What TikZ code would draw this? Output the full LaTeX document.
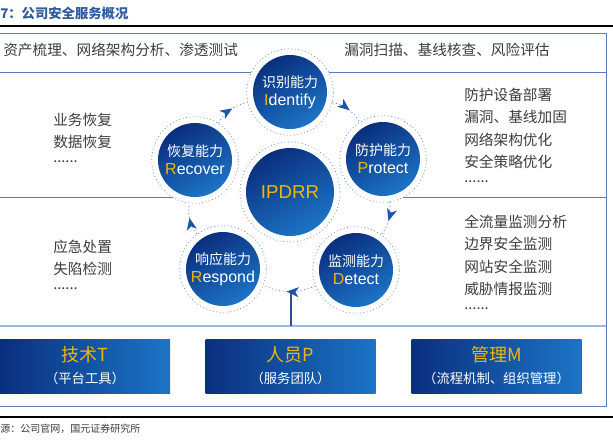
\documentclass[tikz,border=0pt]{standalone}
\usepackage{fontspec}
\setmainfont{Noto Sans CJK SC}
\newfontfamily\en{Liberation Sans}
\usetikzlibrary{arrows.meta,decorations.markings}
\definecolor{titleblue}{HTML}{2F5C9E}
\definecolor{frameblue}{HTML}{5A7DBA}
\definecolor{rowlight}{HTML}{9DB8E3}
\definecolor{textgray}{HTML}{3C3C3C}
\definecolor{ringblue}{HTML}{6C8FCC}
\definecolor{arrowblue}{HTML}{1A55A8}
\definecolor{navy}{HTML}{0A2F7E}
\definecolor{brightblue}{HTML}{1C74C6}
\definecolor{gold}{HTML}{F2B705}
\definecolor{stemblue}{HTML}{2C4F8E}

\begin{document}
\begin{tikzpicture}[x=0.75pt,y=0.75pt,
  ring/.style={circle,draw=ringblue,dotted,line width=0.6pt,fill=white,
    minimum size=65pt,inner sep=0pt},
  disk/.style={circle,inner sep=0pt,minimum size=55.5pt,
    top color=navy,bottom color=brightblue,shading angle=30,
    text=white,align=center,font=\fontsize{10.5}{13.5}\selectfont},
  rowtext/.style={inner sep=0pt,text=textgray,align=left,
    font=\fontsize{11}{16.75}\selectfont},
  box/.style={minimum width=127.5pt,minimum height=40.5pt,inner sep=0pt,
    left color=navy,right color=brightblue,align=center,text=white,
    font=\fontsize{10}{16.5}\selectfont},
  link/.style={draw=ringblue,dotted,line width=0.7pt,postaction={decorate},
    decoration={markings,mark=at position .55 with
      {\arrow{Stealth[length=9pt,width=7.5pt,inset=2.5pt,color=arrowblue]}}}},
  frame/.style={draw=frameblue,line width=0.7pt}
]
\useasboundingbox (0,0) rectangle (613,-445);

% ---- caption, rules and source ----
\node[anchor=west,inner sep=0pt,text=titleblue,font=\bfseries\fontsize{10}{12}\selectfont]
  (title) at (0,-13) {7：公司安全服务概况};
\draw[black,line width=0.8pt] (-2,-26) -- (615,-26);
\draw[black,line width=0.8pt] (-2,-417) -- (615,-417);
\node[anchor=west,inner sep=0pt,text=textgray,font=\fontsize{7.5}{9}\selectfont]
  (src) at (0,-429) {源：公司官网，国元证券研究所};

% ---- frame and rows ----
\draw[frame] (-2,-33) rectangle (606,-406);
\draw[frame] (-2,-72) -- (606,-72);
\draw[frame] (-2,-197) -- (195,-197);
\draw[frame] (383,-197) -- (606,-197);
\draw[draw=rowlight,line width=1.5pt] (-2,-326) -- (606,-326);

% ---- row texts ----
\node[rowtext,anchor=west] (id-l) at (3,-50) {资产梳理、网络架构分析、渗透测试};
\node[rowtext,anchor=west] (id-r) at (344,-50) {漏洞扫描、基线核查、风险评估};
\node[rowtext,anchor=north west] (rec-txt) at (53,-112.7)
  {业务恢复\\数据恢复\\[-5.5pt]......};
\node[rowtext,anchor=north west] (pro-txt) at (464,-87.7)
  {防护设备部署\\漏洞、基线加固\\网络架构优化\\安全策略优化\\[-5.5pt]......};
\node[rowtext,anchor=north west] (res-txt) at (53,-239.7)
  {应急处置\\失陷检测\\[-5.5pt]......};
\node[rowtext,anchor=north west] (det-txt) at (464,-214.7)
  {全流量监测分析\\边界安全监测\\网站安全监测\\威胁情报监测\\[-5.5pt]......};

% ---- IPDRR cycle ----
\node[ring,minimum size=75pt] (core) at (290,-192) {};
\node[disk,minimum size=66pt,text=gold,font=\en\fontsize{14}{16}\selectfont]
  (core-in) at (core) {IPDRR};
\foreach \n/\pos/\zh/\ini/\rest in {idt/{290,-92}/识别能力/I/dentify,
    pro/{383,-159}/防护能力/P/rotect, det/{356,-270}/监测能力/D/etect,
    res/{223,-269}/响应能力/R/espond, rec/{195,-160}/恢复能力/R/ecover}{
  \node[ring] (\n) at (\pos) {};
  \node[disk] (\n-in) at (\n)
    {\zh\\{\en\fontsize{12}{13.5}\selectfont\textcolor{gold}{\ini}\rest}};
}
\draw[link] (idt) to[bend left=22] (pro);
\draw[link] (pro) to[bend left=22] (det);
\draw[link] (det) to[bend left=22] (res);
\draw[link] (res) to[bend left=22] (rec);
\draw[link] (rec) to[bend left=22] (idt);

% ---- T / P / M ----
\coordinate (stem) at (291,-326);
\coordinate (hub) at (291,-293);
\draw[stemblue,line width=1.2pt] (stem) -- (hub);
\foreach \n/\x/\hd/\sub in {tech/85/技术T/（平台工具）,
    staff/290.5/人员P/（服务团队）, mgmt/496.5/管理M/（流程机制、组织管理）}
  \node[box] (\n) at (\x,-366) {{\fontsize{13.5}{16.5}\selectfont\color{gold}\hd}\\\sub};
\end{tikzpicture}
\end{document}
